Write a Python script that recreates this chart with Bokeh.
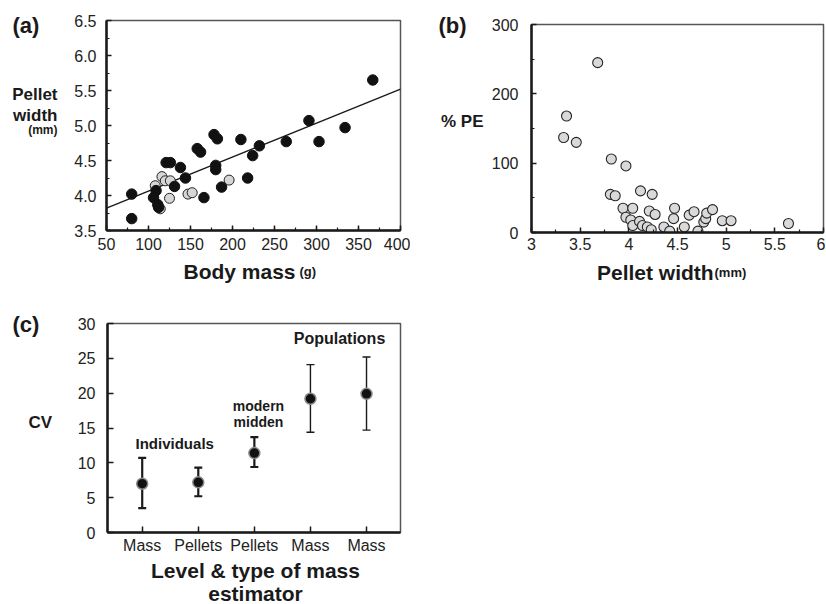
from bokeh.plotting import figure
from bokeh.layouts import column, row
from bokeh.models import (Range1d, SingleIntervalTicker, FixedTicker, Whisker,
                          ColumnDataSource, TeeHead, PrintfTickFormatter)
from bokeh.core.properties import value
from bokeh.embed import file_html
from bokeh.resources import INLINE

# ---------------- Panel (a) data ----------------
a_black_mass = [80, 80, 106, 109, 111, 112, 121, 126, 131, 138, 144, 158, 162, 166,
                178, 182, 180, 180, 187, 210, 218, 224, 232, 264, 291, 303, 334, 367]
a_black_width = [4.02, 3.67, 3.97, 4.07, 3.87, 3.83, 4.47, 4.47, 4.13, 4.40, 4.25, 4.67, 4.62, 3.97,
                 4.87, 4.81, 4.43, 4.37, 4.12, 4.80, 4.25, 4.57, 4.71, 4.77, 5.07, 4.77, 4.97, 5.65]
a_grey_mass = [108, 116, 120, 126, 125, 114, 147, 152, 196]
a_grey_width = [4.14, 4.27, 4.21, 4.21, 3.96, 3.81, 4.02, 4.04, 4.22]
a_fit_mass = [50, 400]
a_fit_width = [3.82, 5.52]

# ---------------- Panel (b) data ----------------
b_width = [3.68, 3.36, 3.33, 3.46, 3.82, 3.97, 3.81, 3.86, 4.12, 4.24, 3.94, 4.04,
           3.97, 4.02, 4.04, 4.11, 4.14, 4.21, 4.27, 4.19, 4.23, 4.36, 4.42, 4.47,
           4.46, 4.57, 4.62, 4.67, 4.71, 4.77, 4.79, 4.80, 4.86, 4.96, 5.05, 5.64]
b_pe = [245, 168, 137, 130, 106, 96, 55, 53, 60, 55, 35, 35,
        22, 18, 10, 16, 10, 31, 26, 8, 4, 8, 2, 35,
        20, 8, 25, 30, 2, 15, 20, 28, 33, 17, 17, 13]
b_xticks = [3, 3.5, 4, 4.5, 5, 5.5, 6]
b_xlabels = ["3", "3.5", "4", "4.5", "5", "5.5", "6"]

# ---------------- Panel (c) data ----------------
c_labels = ["Mass", "Pellets", "Pellets", "Mass", "Mass"]
c_cv = [7.0, 7.2, 11.4, 19.2, 19.9]
c_low = [3.5, 5.2, 9.4, 14.4, 14.7]
c_high = [10.7, 9.3, 13.7, 24.1, 25.2]
c_x = list(range(len(c_labels)))

FONT = "Liberation Sans"
INK = "#1a1a1a"
DY = 6  # baseline correction in pixels


def style(p):
    p.grid.visible = False
    p.outline_line_color = "#555555"
    p.outline_line_width = 1.5
    p.background_fill_color = "white"
    p.border_fill_color = "white"
    for ax in p.axis:
        ax.axis_line_width = 2.5
        ax.axis_line_color = INK
        ax.major_tick_in = 5
        ax.major_tick_out = 0
        ax.minor_tick_in = 3
        ax.minor_tick_out = 0
        ax.major_tick_line_width = 1.5
        ax.minor_tick_line_width = 1.2
        ax.major_tick_line_color = INK
        ax.minor_tick_line_color = INK
        ax.major_label_text_font = FONT
        ax.major_label_text_font_size = "16px"
        ax.major_label_text_color = "#222222"


def text_fig(x0, x1, oy, w, h, mbl=0, mbr=0):
    """Bare canvas; frame spans page x0..x1, data y = page y (downwards)."""
    f = figure(width=w, height=h, output_backend="svg", toolbar_location=None,
               x_range=Range1d(x0, x1), y_range=Range1d(oy + h, oy),
               x_axis_location=None, y_axis_location=None)
    f.min_border_left = mbl
    f.min_border_right = mbr
    f.min_border_top = 0
    f.min_border_bottom = 0
    f.outline_line_color = None
    f.grid.visible = False
    f.background_fill_color = "white"
    f.border_fill_color = "white"
    return f


def txt(f, x, y, s, size, align="left", bold=True):
    f.text(x=[x], y=[y], text=[s], text_font=value(FONT), text_font_size=value(size),
           text_font_style="bold" if bold else "normal", text_align=align,
           text_baseline="alphabetic", text_color=INK)


# ================= Panel (a) =================
a_left = text_fig(0, 58, 0, 58, 296)
txt(a_left, 12, 31 - DY, "(a)", "22px")
txt(a_left, 57, 100 - DY, "Pellet", "17px", align="right")
txt(a_left, 57, 120.5 - DY, "width", "17px", align="right")
txt(a_left, 57, 135 - DY, "(mm)", "12px", align="right")

pa = figure(width=352, height=258, output_backend="svg", toolbar_location=None,
            x_range=Range1d(50, 400), y_range=Range1d(3.5, 6.5))
pa.min_border_left = 48
pa.min_border_right = 10
pa.min_border_top = 20
pa.min_border_bottom = 28
style(pa)
pa.xaxis.ticker = SingleIntervalTicker(interval=50, num_minor_ticks=2)
pa.yaxis.ticker = SingleIntervalTicker(interval=0.5, num_minor_ticks=2)
pa.yaxis.formatter = PrintfTickFormatter(format="%.1f")
pa.xaxis.major_label_standoff = 7
pa.yaxis.major_label_standoff = 10
pa.line(a_fit_mass, a_fit_width, line_color=INK, line_width=1.4)
pa.scatter(a_grey_mass, a_grey_width, size=10, marker="circle",
           fill_color="#d6d6d6", line_color="#222222", line_width=1)
pa.scatter(a_black_mass, a_black_width, size=10.5, marker="circle",
           fill_color="#111111", line_color="#111111", line_width=1)

a_bot = text_fig(106, 400, 258, 352, 38, mbl=48, mbr=10)
txt(a_bot, 183, 277 - DY, "Body mass", "21px")
txt(a_bot, 299, 277 - DY, "(g)", "13px")

# ================= Panel (b) =================
b_left = text_fig(410, 486, 0, 76, 296)
txt(b_left, 438, 31 - DY, "(b)", "22px")
txt(b_left, 483, 126.5 - DY, "% PE", "17px", align="right")

pb = figure(width=339, height=258, output_backend="svg", toolbar_location=None,
            x_range=Range1d(3, 6), y_range=Range1d(0, 300))
pb.min_border_left = 45
pb.min_border_right = 2
pb.min_border_top = 24
pb.min_border_bottom = 26
style(pb)
pb.xaxis.ticker = FixedTicker(ticks=b_xticks,
                              minor_ticks=[t + 0.25 for t in b_xticks[:-1]])
pb.xaxis.major_label_overrides = {t: s for t, s in zip(b_xticks, b_xlabels)}
pb.yaxis.ticker = SingleIntervalTicker(interval=100, num_minor_ticks=2)
pb.xaxis.major_label_standoff = 5
pb.yaxis.major_label_standoff = 13
pb.scatter(b_width, b_pe, size=10, marker="circle",
           fill_color="#d9d9d9", line_color="#262626", line_width=1.1)

b_bot = text_fig(531, 823, 258, 339, 38, mbl=45, mbr=2)
txt(b_bot, 596.5, 278 - DY, "Pellet width", "21px")
txt(b_bot, 714, 278 - DY, "(mm)", "13px")

# ================= Panel (c) =================
c_left = text_fig(0, 60, 296, 60, 308)
txt(c_left, 12, 330 - DY, "(c)", "22px")
txt(c_left, 28, 428 - DY, "CV", "17px")

pc = figure(width=350, height=260, output_backend="svg", toolbar_location=None,
            x_range=Range1d(-0.619, 4.606), y_range=Range1d(0, 30))
pc.min_border_left = 47
pc.min_border_right = 10
pc.min_border_top = 27
pc.min_border_bottom = 23
style(pc)
pc.xaxis.ticker = FixedTicker(ticks=c_x, minor_ticks=[])
pc.xaxis.major_label_overrides = {i: s for i, s in zip(c_x, c_labels)}
pc.xaxis.major_tick_in = 6
pc.yaxis.ticker = SingleIntervalTicker(interval=5, num_minor_ticks=0)
pc.yaxis.major_tick_in = 6
pc.xaxis.major_label_standoff = 4
pc.yaxis.major_label_standoff = 12

src_ind = ColumnDataSource(dict(x=c_x[:3], low=c_low[:3], high=c_high[:3]))
src_pop = ColumnDataSource(dict(x=c_x[3:], low=c_low[3:], high=c_high[3:]))
pc.add_layout(Whisker(base="x", lower="low", upper="high", source=src_ind,
                      dimension="height", line_width=2.2, line_color=INK,
                      upper_head=TeeHead(size=8, line_width=2.2, line_color=INK),
                      lower_head=TeeHead(size=8, line_width=2.2, line_color=INK)))
pc.add_layout(Whisker(base="x", lower="low", upper="high", source=src_pop,
                      dimension="height", line_width=1.4, line_color=INK,
                      upper_head=TeeHead(size=8, line_width=1.4, line_color=INK),
                      lower_head=TeeHead(size=8, line_width=1.4, line_color=INK)))
pc.scatter(c_x, c_cv, size=11, marker="circle",
           fill_color="#111111", line_color="#8a8a8a", line_width=1.5)
CDY = DY / 7.0  # pixels -> CV units
txt(pc, -0.119, 11.9 + CDY, "Individuals", "15px")
txt(pc, 2.073, 17.33 + CDY, "modern", "14px", align="center")
txt(pc, 2.073, 15.04 + CDY, "midden", "14px", align="center")
txt(pc, 2.702, 27.04 + CDY, "Populations", "16px")

c_bot = text_fig(107, 400, 556, 350, 48, mbl=47, mbr=10)
txt(c_bot, 255, 576 - DY, "Level & type of mass", "21px", align="center")
txt(c_bot, 255, 599 - DY, "estimator", "21px", align="center")

layout = column(
    row(a_left, column(pa, a_bot), b_left, column(pb, b_bot)),
    row(c_left, column(pc, c_bot)),
)
open("out.html", "w").write(file_html(layout, INLINE))
